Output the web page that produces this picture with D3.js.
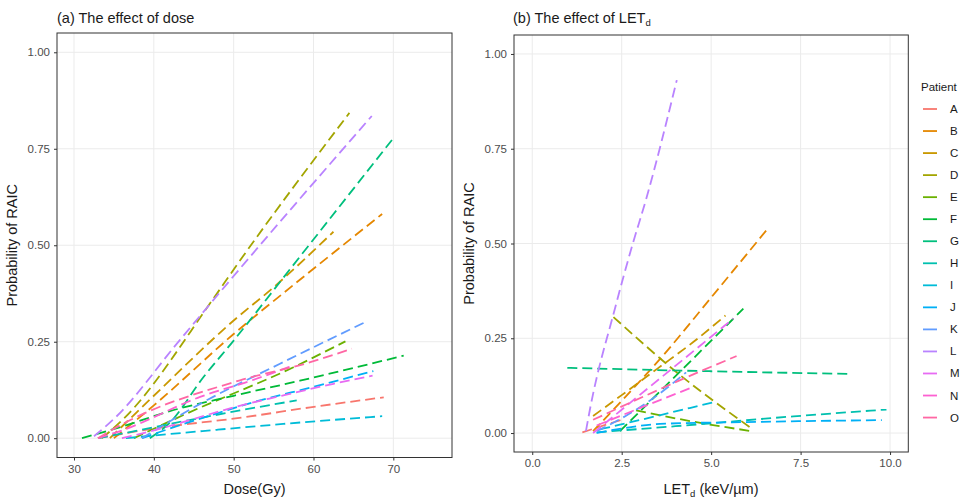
<!DOCTYPE html>
<html>
<head>
<meta charset="utf-8">
<script src="https://cdn.jsdelivr.net/npm/d3@7"></script>
<style>
  body { margin: 0; background: #fff; }
  text { font-family: "Liberation Sans", Arial, sans-serif; }
  .tick text { fill: #4d4d4d; font-size: 11.5px; }
  .tick line { stroke: #333; }
  .domain { display: none; }
</style>
</head>
<body>
<svg id="chart" width="967" height="499"></svg>
<script>
// patients + ggplot hue colours
var patients = ["A","B","C","D","E","F","G","H","I","J","K","L","M","N","O"];
var colors = ["#F8766D","#E58700","#C99800","#A3A500","#6BB100","#00BA38","#00BF7D","#00C0AF",
              "#00BCD8","#00B0F6","#619CFF","#B983FF","#E76BF3","#FD61D1","#FF67A4"];

// (a) dose (Gy) vs probability, one list per patient
var doseLines = [
  [[33,0],[40,0.025],[51.2,0.054],[59.6,0.08],[68.8,0.106]],
  [[35,0],[40,0.085],[50,0.27],[57.9,0.404],[68.6,0.581]],
  [[34.5,0],[40,0.11],[50,0.305],[55,0.391],[62.5,0.535]],
  [[33.5,0],[36.2,0.05],[47.3,0.357],[50.2,0.443],[64.5,0.843]],
  [[37.5,0],[43.7,0.06],[57.5,0.184],[64,0.251]],
  [[31,0],[36,0.03],[42,0.07],[50,0.11],[58.3,0.149],[71.3,0.214]],
  [[39.5,0],[42,0.04],[46.2,0.158],[50,0.253],[57.1,0.439],[70.1,0.78]],
  [[33,0],[38,0.02],[44,0.045],[50.8,0.072],[57.9,0.098]],
  [[36.5,0],[40,0.007],[48,0.022],[56.2,0.037],[68.6,0.057]],
  [[38.5,0],[42,0.025],[48,0.065],[53.3,0.098],[59.6,0.131],[67.5,0.174]],
  [[38.5,0],[45.8,0.089],[55.8,0.193],[66.3,0.299]],
  [[32.5,0.005],[35,0.05],[43.2,0.253],[49.5,0.408],[67.3,0.835]],
  [[36,0],[40,0.02],[45,0.05],[50,0.08],[56,0.11],[62.5,0.141],[67.4,0.162]],
  [[33,0],[36,0.02],[45.8,0.107],[52.3,0.15],[57,0.185]],
  [[33,0],[35.3,0.028],[50.8,0.15],[59.6,0.197],[64.8,0.232]]
];

// (b) LETd (keV/um) vs probability
var letLines = [
  [[1.4,0.002],[2.0,0.02],[2.5,0.035]],
  [[1.7,0.005],[2.5,0.085],[3.66,0.205],[4.97,0.354],[6.57,0.538]],
  [[1.7,0.045],[2.5,0.1],[3.5,0.17],[4.5,0.24],[5.4,0.31]],
  [[2.27,0.306],[4.13,0.153],[6.18,0.009]],
  [[2.9,0.06],[4.5,0.03],[6.2,0.004]],
  [[2.45,0.005],[4.13,0.162],[5.9,0.328]],
  [[0.98,0.172],[5,0.163],[8.9,0.156]],
  [[1.8,0.002],[4,0.018],[7.3,0.044],[9.9,0.062]],
  [[1.9,0.01],[2.45,0.022],[4.4,0.066],[5.15,0.083]],
  [[1.8,0],[2.5,0.012],[3.57,0.024],[6,0.029],[9.77,0.034]],
  [[1.8,0.005],[2.7,0.05],[3.5,0.1],[4.3,0.16]],
  [[1.5,0.005],[1.62,0.066],[2.31,0.328],[2.78,0.49],[3.18,0.616],[4.04,0.931]],
  [[1.7,0],[3.57,0.144],[5.62,0.302]],
  [[1.8,0.02],[3.57,0.087],[4.4,0.118]],
  [[1.7,0.035],[4.68,0.162],[5.71,0.203]]
];

var yTicks = [0, 0.25, 0.5, 0.75, 1];
var doseTicks = [30, 40, 50, 60, 70];
var letTicks = [0, 2.5, 5, 7.5, 10];

var svg = d3.select("#chart");

function panel(opt) {
  var x = d3.scaleLinear().domain(opt.xDomain).range([opt.left, opt.right]);
  var y = d3.scaleLinear().domain([-0.05, 1.05]).range([opt.bottom, opt.top]);
  var g = svg.append("g");

  // grid
  g.selectAll(".gx").data(opt.xTicks).enter().append("line")
    .attr("x1", d => x(d)).attr("x2", d => x(d))
    .attr("y1", opt.top).attr("y2", opt.bottom)
    .attr("stroke", "#ebebeb").attr("stroke-width", 1);
  g.selectAll(".gy").data(yTicks).enter().append("line")
    .attr("x1", opt.left).attr("x2", opt.right)
    .attr("y1", d => y(d)).attr("y2", d => y(d))
    .attr("stroke", "#ebebeb").attr("stroke-width", 1);

  var line = d3.line().x(d => x(d[0])).y(d => y(d[1])).curve(d3.curveMonotoneX);
  g.selectAll(".series").data(opt.lines).enter().append("path")
    .attr("d", line)
    .attr("fill", "none")
    .attr("stroke", (d, i) => colors[i])
    .attr("stroke-width", 1.8)
    .attr("stroke-dasharray", "10,5");

  // border
  g.append("rect")
    .attr("x", opt.left).attr("y", opt.top)
    .attr("width", opt.right - opt.left).attr("height", opt.bottom - opt.top)
    .attr("fill", "none").attr("stroke", "#333").attr("stroke-width", 1);

  g.append("g").attr("transform", "translate(0," + opt.bottom + ")")
    .call(d3.axisBottom(x).tickValues(opt.xTicks).tickSize(3).tickPadding(4)
      .tickFormat(opt.xFormat));
  g.append("g").attr("transform", "translate(" + opt.left + ",0)")
    .call(d3.axisLeft(y).tickValues(yTicks).tickSize(3).tickPadding(4)
      .tickFormat(d3.format(".2f")));

  g.append("text")
    .attr("transform", "translate(" + (opt.left - 40) + "," + ((opt.top + opt.bottom) / 2) + ") rotate(-90)")
    .attr("text-anchor", "middle").attr("font-size", 14.5).attr("fill", "#1a1a1a")
    .text("Probability of RAIC");
  return g;
}

var ga = panel({ left: 57, right: 452, top: 33, bottom: 457.5, xDomain: [27.87, 77.35],
  xTicks: doseTicks, xFormat: d3.format("d"), lines: doseLines });
ga.append("text").attr("x", 57).attr("y", 23).attr("font-size", 14.5).attr("fill", "#1a1a1a")
  .text("(a) The effect of dose");
ga.append("text").attr("x", 254.5).attr("y", 494).attr("text-anchor", "middle")
  .attr("font-size", 14.5).attr("fill", "#1a1a1a").text("Dose(Gy)");

var gb = panel({ left: 514, right: 908.3, top: 35, bottom: 452, xDomain: [-0.51, 10.51],
  xTicks: letTicks, xFormat: d3.format(".1f"), lines: letLines });
var tb = gb.append("text").attr("x", 513).attr("y", 23).attr("font-size", 14.5).attr("fill", "#1a1a1a");
tb.append("tspan").text("(b) The effect of LET");
tb.append("tspan").attr("font-size", 9.5).attr("dy", 3).text("d");
var xb = gb.append("text").attr("x", 711).attr("y", 494).attr("text-anchor", "middle")
  .attr("font-size", 14.5).attr("fill", "#1a1a1a");
xb.append("tspan").text("LET");
xb.append("tspan").attr("font-size", 9.5).attr("dy", 3).text("d");
xb.append("tspan").attr("dy", -3).text(" (keV/\u00b5m)");

// legend
var lg = svg.append("g");
lg.append("text").attr("x", 921).attr("y", 91).attr("font-size", 11.5).attr("fill", "#1a1a1a").text("Patient");
var rows = lg.selectAll(".row").data(patients).enter().append("g")
  .attr("transform", (d, i) => "translate(0," + (109 + i * 22.04) + ")");
rows.append("line").attr("x1", 923).attr("x2", 937).attr("y1", 0).attr("y2", 0)
  .attr("stroke", (d, i) => colors[i]).attr("stroke-width", 1.8);
rows.append("text").attr("x", 950).attr("y", 4).attr("font-size", 11.5).attr("fill", "#1a1a1a")
  .text(d => d);
</script>
</body>
</html>
